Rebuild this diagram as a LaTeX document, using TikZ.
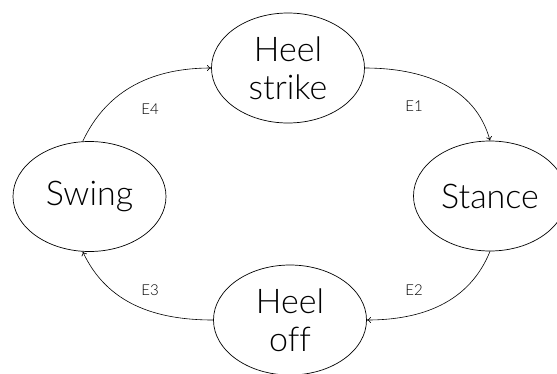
\documentclass[tikz,border=0pt]{standalone}
\usepackage{fontspec}
\setmainfont{Lato Light}[Ligatures=NoCommon]
\usetikzlibrary{shapes.geometric,arrows.meta}
\begin{document}
\begin{tikzpicture}[x=1pt,y=-1pt,
  state/.style={ellipse,draw=black,line width=0.7pt,minimum width=153pt,minimum height=110pt,inner sep=0pt,
    font=\fontsize{34}{38}\selectfont,text=black,align=center},
  edge/.style={draw=black,line width=0.6pt,-{To[length=4pt,width=6pt]}},
  elabel/.style={font=\fontsize{15}{17}\selectfont,text=black}]
\useasboundingbox (0,0) rectangle (557,373);
\node[state] (hs) at (288,68) {Heel\\strike};
\node[state] (st) at (490,196) {Stance};
\node[state] (ho) at (290,320) {Heel\\off};
\node[state] (sw) at (89.5,196.5) {Swing};
\draw[edge] (hs.east) to[out=0,in=105] (st.north);
\draw[edge] (st.south) to[out=-112,in=0] (ho.east);
\draw[edge] (ho.west) to[out=180,in=-65] (sw.263);
\draw[edge] (sw.97) to[out=65,in=180] (hs.west);
\node[elabel] (e1) at (414,106) {E1};
\node[elabel] (e2) at (414,290) {E2};
\node[elabel] (e3) at (150,290) {E3};
\node[elabel] (e4) at (150,109) {E4};
\end{tikzpicture}
\end{document}
